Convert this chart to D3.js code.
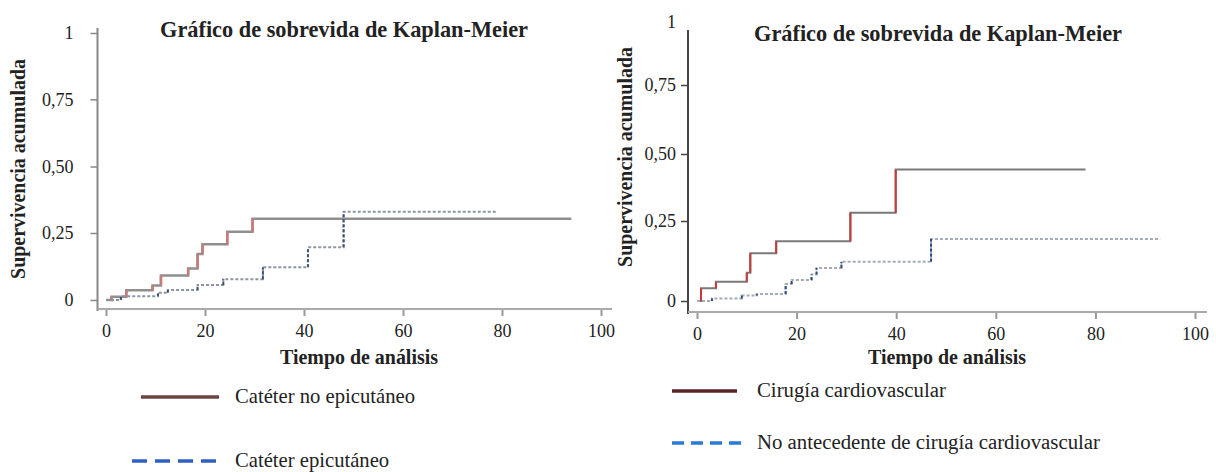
<!DOCTYPE html>
<html>
<head>
<meta charset="utf-8">
<script src="https://cdn.jsdelivr.net/npm/d3@7"></script>
<style>
  body { margin: 0; background: #fff; }
  svg { display: block; }
  text { font-family: "Liberation Serif", "DejaVu Serif", serif; fill: #222; }
</style>
</head>
<body>
<svg width="1216" height="472"></svg>
<script>
// datos
var titulo = "Gráfico de sobrevida de Kaplan-Meier";
var tituloY = "Supervivencia acumulada";
var tituloX = "Tiempo de análisis";

var xTicks = [0, 20, 40, 60, 80, 100];
var yTicks = [0, 0.25, 0.5, 0.75, 1];
var yTickLabels = ["0", "0,25", "0,50", "0,75", "1"];

// panel izquierdo
var tiempoNoEpi = [0, 1.1, 4.1, 9.4, 11.1, 16.6, 18.5, 19.5, 24.5, 29.6, 94];
var survNoEpi = [0, 0.012, 0.036, 0.054, 0.091, 0.118, 0.172, 0.208, 0.255, 0.304, 0.304];
var tiempoEpi = [0, 3, 10.5, 12.5, 18.5, 23.7, 31.7, 40.8, 48, 79];
var survEpi = [0, 0.014, 0.027, 0.037, 0.056, 0.077, 0.122, 0.197, 0.33, 0.33];
var leyendaIzq = ["Catéter no epicutáneo", "Catéter epicutáneo"];

// panel derecho
var tiempoCirugia = [0, 0.8, 3.8, 10, 10.7, 15.9, 30.8, 39.9, 78];
var survCirugia = [0, 0.04, 0.06, 0.088, 0.149, 0.187, 0.281, 0.442, 0.442];
var tiempoSinCirugia = [0, 3, 9, 12, 17.8, 19, 23, 24, 29, 47, 93];
var survSinCirugia = [0, 0.008, 0.017, 0.022, 0.053, 0.066, 0.083, 0.103, 0.123, 0.194, 0.194];
var leyendaDer = ["Cirugía cardiovascular", "No antecedente de cirugía cardiovascular"];

var svg = d3.select("svg");

// ajusta el tamaño de letra para que el texto ocupe un ancho dado
function fit(sel, w) {
    var l = sel.node().getComputedTextLength();
    var fs = parseFloat(sel.attr("font-size"));
    sel.attr("font-size", (fs * w / l).toFixed(2));
    return fs * w / l;
}

function panel(cfg) {
    var g = svg.append("g");
    var x = d3.scaleLinear().domain([0, 100]).range(cfg.xRange);
    var y = d3.scaleLinear().domain(yTicks).range(cfg.yRange);

    // eje Y
    var ay = g.append("g")
        .attr("transform", "translate(" + cfg.axisX + ",0)")
        .call(d3.axisLeft(y).tickValues(yTicks).tickSize(7).tickPadding(cfg.yPad)
            .tickFormat(function(d, i) { return yTickLabels[i]; }));
    ay.select(".domain").remove();
    ay.selectAll(".tick line").attr("stroke", cfg.axisColor).attr("stroke-width", 1.5);
    ay.selectAll(".tick text").attr("font-size", 18).attr("fill", "#333");
    if (cfg.noTopTick) ay.selectAll(".tick line").filter(function(d) { return d === 1; }).remove();
    g.append("line")
        .attr("x1", cfg.axisX).attr("x2", cfg.axisX)
        .attr("y1", cfg.axisTop).attr("y2", cfg.axisY + 2)
        .attr("stroke", cfg.axisColor).attr("stroke-width", 2);

    // eje X
    var ax = g.append("g")
        .attr("transform", "translate(0," + cfg.axisY + ")")
        .call(d3.axisBottom(x).tickValues(xTicks).tickSize(7).tickPadding(8));
    ax.select(".domain").remove();
    ax.selectAll(".tick line").attr("stroke", "#999").attr("stroke-width", 2);
    ax.selectAll(".tick text").attr("font-size", 18).attr("fill", "#333");
    g.append("line")
        .attr("x1", cfg.axisX).attr("x2", cfg.xEnd)
        .attr("y1", cfg.axisY).attr("y2", cfg.axisY)
        .attr("stroke", "#aaa").attr("stroke-width", 2);

    // curvas de Kaplan-Meier
    cfg.series.forEach(function(s) {
        var pts = s.t.map(function(t, i) { return { t: t, v: s.v[i] }; });
        var line = d3.line()
            .x(function(d) { return x(d.t); })
            .y(function(d) { return y(d.v); })
            .curve(d3.curveStepAfter);
        g.append("path")
            .datum(pts)
            .attr("fill", "none")
            .attr("stroke", s.hColor)
            .attr("stroke-width", s.width)
            .attr("stroke-dasharray", s.dash)
            .attr("d", line);
        var saltos = [];
        pts.forEach(function(d, i) {
            if (i > 0 && d.v !== pts[i - 1].v) saltos.push({ t: d.t, v0: pts[i - 1].v, v1: d.v });
        });
        g.selectAll(null)
            .data(saltos)
            .enter().append("line")
            .attr("x1", function(d) { return x(d.t); })
            .attr("x2", function(d) { return x(d.t); })
            .attr("y1", function(d) { return y(d.v0); })
            .attr("y2", function(d) { return y(d.v1); })
            .attr("stroke", s.vColor)
            .attr("stroke-width", s.width)
            .attr("stroke-dasharray", s.dash);
    });

    // titulos
    var t = g.append("text")
        .attr("x", cfg.titleX).attr("y", cfg.titleY)
        .attr("text-anchor", "middle").attr("font-weight", "bold").attr("font-size", 20)
        .text(titulo);
    fit(t, 368);

    var tx = g.append("text")
        .attr("x", cfg.xTitleX).attr("y", 364)
        .attr("text-anchor", "middle").attr("font-weight", "bold").attr("font-size", 18)
        .text(tituloX);
    fit(tx, 158);

    var ty = g.append("text")
        .attr("transform", "translate(" + cfg.yTitle[0] + "," + cfg.yTitle[1] + ") rotate(-90)")
        .attr("text-anchor", "middle").attr("font-weight", "bold").attr("font-size", 18)
        .text(tituloY);
    fit(ty, 220);

    // leyenda: se ajusta el texto mas largo y el resto usa el mismo tamaño
    var textos = [];
    cfg.legend.forEach(function(l, i) {
        g.append("line")
            .attr("x1", l.x1).attr("x2", l.x2)
            .attr("y1", l.y).attr("y2", l.y)
            .attr("stroke", l.color).attr("stroke-width", 3.5)
            .attr("stroke-dasharray", l.dash);
        textos.push(g.append("text")
            .attr("x", l.tx).attr("y", l.y + 6)
            .attr("font-size", 18)
            .text(cfg.legendText[i]));
    });
    var fs = fit(textos[cfg.legendFit], cfg.legendWidth);
    textos.forEach(function(lt) { lt.attr("font-size", fs.toFixed(2)); });
}

panel({
    xRange: [106, 601],
    yRange: [300, 233, 166.5, 99.3, 33],
    axisX: 97.5, axisY: 309, axisTop: 28, xEnd: 612,
    axisColor: "#888", yPad: 17, noTopTick: false,
    titleX: 344, titleY: 37, xTitleX: 359, yTitle: [25, 169],
    series: [
        { t: tiempoNoEpi, v: survNoEpi, hColor: "#8f8f8f", vColor: "#c97a7a", width: 2.5, dash: null },
        { t: tiempoEpi, v: survEpi, hColor: "#8c94a4", vColor: "#3c5478", width: 2, dash: "3,2" }
    ],
    legend: [
        { x1: 141, x2: 219, y: 397, tx: 235, color: "#6b4444", dash: null },
        { x1: 132, x2: 220, y: 461, tx: 235, color: "#2f5fc0", dash: "15,8" }
    ],
    legendText: leyendaIzq, legendFit: 0, legendWidth: 180
});

panel({
    xRange: [697, 1195],
    yRange: [301, 221, 154, 85, 22],
    axisX: 688, axisY: 312, axisTop: 30, xEnd: 1207,
    axisColor: "#444", yPad: 5, noTopTick: true,
    titleX: 938, titleY: 41, xTitleX: 947, yTitle: [632, 157],
    series: [
        { t: tiempoCirugia, v: survCirugia, hColor: "#7a7a7a", vColor: "#c43c3c", width: 2, dash: null },
        { t: tiempoSinCirugia, v: survSinCirugia, hColor: "#a4acb8", vColor: "#2c4a80", width: 2, dash: "3,2" }
    ],
    legend: [
        { x1: 672, x2: 737, y: 391, tx: 757, color: "#5a2424", dash: null },
        { x1: 672, x2: 743, y: 443, tx: 757, color: "#2a7ad8", dash: "12,7" }
    ],
    legendText: leyendaDer, legendFit: 1, legendWidth: 343
});
</script>
</body>
</html>
